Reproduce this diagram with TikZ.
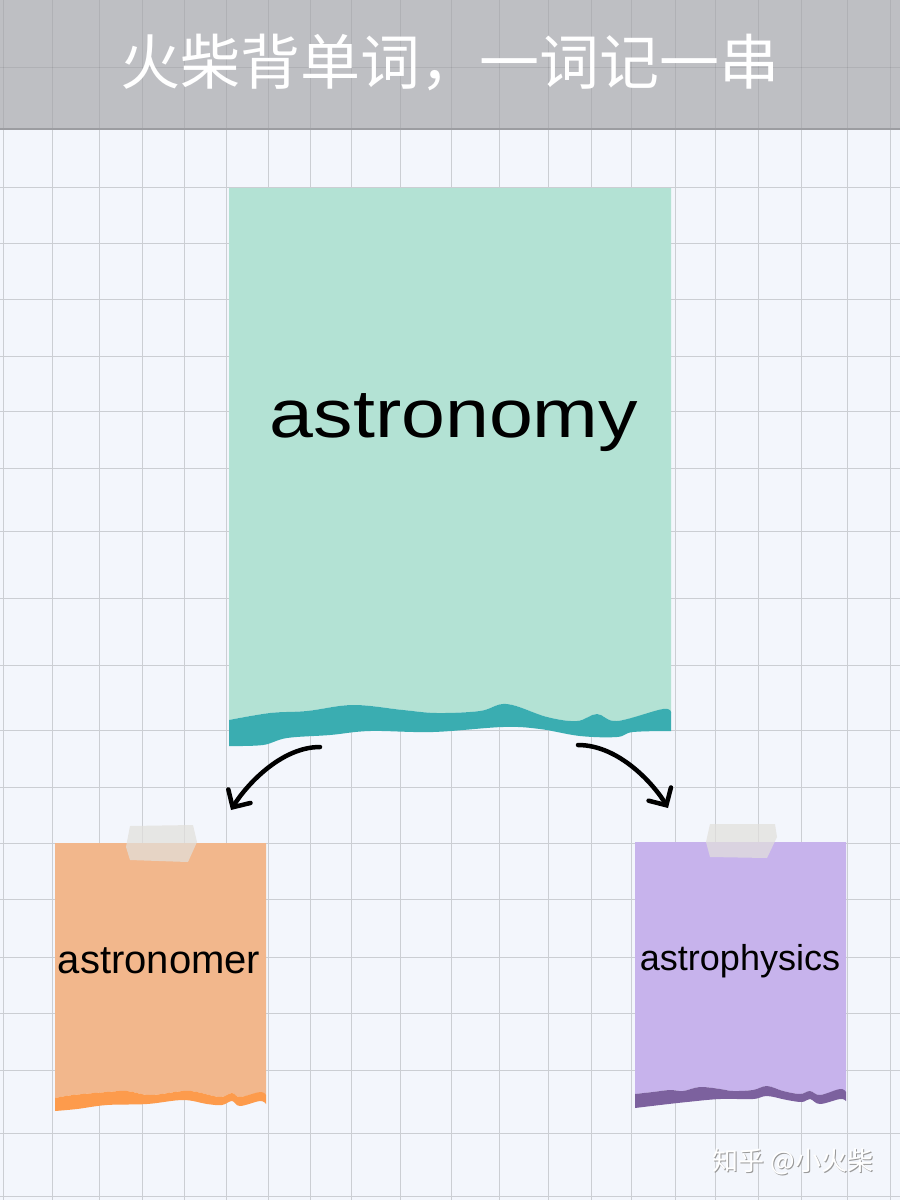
\documentclass[tikz,border=0pt]{standalone}
\usepackage{fontspec}
\setmainfont{Liberation Sans}
\newfontfamily\cjk{Noto Sans CJK SC}
\usetikzlibrary{arrows.meta}
\definecolor{bg}{HTML}{F3F6FC}
\definecolor{gridc}{HTML}{CBCED3}
\definecolor{headc}{HTML}{BEBFC3}
\definecolor{headl}{HTML}{9C9DA1}
\definecolor{tealcard}{HTML}{B3E2D4}
\definecolor{tealband}{HTML}{3AADB1}
\definecolor{orcard}{HTML}{F2B78C}
\definecolor{orband}{HTML}{FD9B4C}
\definecolor{pucard}{HTML}{C7B3EC}
\definecolor{puband}{HTML}{7C619E}
\definecolor{tapec}{HTML}{E2E0DC}
\tikzset{
  gridline/.style={draw=gridc, line width=1pt},
  headgrid/.style={draw=black, opacity=0.07, line width=1pt},
  tape/.style={fill=tapec, fill opacity=0.72},
  arr/.style={line width=4.5pt, line cap=round, -{Straight Barb[length=13pt,width=26pt,line cap=round]}},
  word/.style={anchor=base, text=black, inner sep=0pt},
}
\begin{document}
\begin{tikzpicture}[x=1pt,y=-1pt]
\useasboundingbox (0,0) rectangle (900,1200);
\fill[bg] (0,0) rectangle (900,1200);
% grid
\foreach \x in {3,52,99,142,184,226,268,310,351,400,451,499,548,591,631,675,715,758,801,847,890}
  \draw[gridline] (\x,129) -- (\x,1200);
\foreach \y in {187,243,299,356,411,468,531,598,665,730,787,843,899,957,1013,1070,1133,1196}
  \draw[gridline] (0,\y) -- (900,\y);
% header
\fill[headc] (0,0) rectangle (900,129);
\foreach \x in {3,52,99,142,184,226,268,310,351,400,451,499,548,591,631,675,715,758,801,847,890}
  \draw[headgrid] (\x,0) -- (\x,129);
\draw[headgrid] (0,67) -- (900,67);
\draw[headl, line width=2pt] (0,129) -- (900,129);
\node[text=white, inner sep=0pt] (title) at (450,62) {\cjk\fontsize{60}{70}\selectfont 火柴背单词，一词记一串};

% main card
\fill[tealcard] (229,188) -- (671,188) -- (671,713) -- plot[smooth,tension=0.6] coordinates {(663,709) (617,721) (597,714) (577,721) (547,717) (507,704) (480,711) (437,713) (403,710) (353,705) (307,711) (270,713) (229,720)} -- cycle;
\fill[tealband] plot[smooth,tension=0.6] coordinates {(229,720) (270,713) (307,711) (353,705) (403,710) (437,713) (480,711) (507,704) (547,717) (577,721) (597,714) (617,721) (663,709) (671,713)}
  -- (671,731) -- plot[smooth,tension=0.6] coordinates {(671,731) (633,732) (617,737) (580,736) (540,729) (503,727) (433,732) (370,731) (330,735) (287,738) (263,745) (229,746)} -- cycle;
\node[word] (main) at (454,437) {\scalebox{1.16}[1]{\fontsize{68}{80}\selectfont astronomy}};

% left card
\fill[orcard] (55,843) -- (266,843) -- (266,1095) -- plot[smooth,tension=0.6] coordinates {(260,1092) (240,1097) (232,1093) (220,1097) (197,1092) (183,1091) (150,1095) (127,1091) (107,1092) (73,1095) (55,1098)} -- cycle;
\fill[orband] plot[smooth,tension=0.6] coordinates {(55,1098) (73,1095) (107,1092) (127,1091) (150,1095) (183,1091) (197,1092) (220,1097) (232,1093) (240,1097) (260,1092) (266,1095)}
  -- (266,1104) -- plot[smooth,tension=0.6] coordinates {(266,1104) (260,1101) (240,1106) (232,1101) (222,1105) (207,1104) (183,1100) (147,1104) (107,1105) (77,1109) (55,1111)} -- cycle;
\fill[tape] (130,826) -- (193,825) -- (197,842) -- (188,862) -- (130,860) -- (126,847) -- cycle;
\node[word] (left) at (159,973) {\fontsize{40}{48}\selectfont astronomer};

% right card
\fill[pucard] (635,842) -- (846,842) -- (846,1092) -- plot[smooth,tension=0.6] coordinates {(840,1089) (820,1095) (810,1091) (800,1094) (783,1091) (767,1086) (753,1090) (733,1091) (720,1089) (700,1087) (683,1091) (670,1090) (653,1092) (635,1094)} -- cycle;
\fill[puband] plot[smooth,tension=0.6] coordinates {(635,1094) (653,1092) (670,1090) (683,1091) (700,1087) (720,1089) (733,1091) (753,1090) (767,1086) (783,1091) (800,1094) (810,1091) (820,1095) (840,1089) (846,1092)}
  -- (846,1101) -- plot[smooth,tension=0.6] coordinates {(846,1101) (840,1099) (820,1104) (810,1099) (802,1102) (787,1100) (767,1096) (753,1099) (720,1099) (687,1102) (660,1105) (635,1108)} -- cycle;
\fill[tape] (710,824) -- (775,824) -- (777,837) -- (767,858) -- (710,857) -- (706,842) -- cycle;
\node[word] (right) at (740,970) {\fontsize{36}{44}\selectfont astrophysics};

% arrows
\coordinate (l0) at (320,747);
\coordinate (l1) at (231,810);
\coordinate (r0) at (578,745);
\coordinate (r1) at (668,808);
\draw[arr] (l0) .. controls (280,747) and (245,787) .. (l1);
\draw[arr] (r0) .. controls (620,745) and (655,786) .. (r1);

% watermark
\node[text=gray!80, inner sep=0pt] (wmshadow) at (794,1163) {\cjk\fontsize{26}{30}\selectfont 知乎 @小火柴};
\node[text=white, inner sep=0pt] (wm) at (793,1162) {\cjk\fontsize{26}{30}\selectfont 知乎 @小火柴};
\end{tikzpicture}
\end{document}
